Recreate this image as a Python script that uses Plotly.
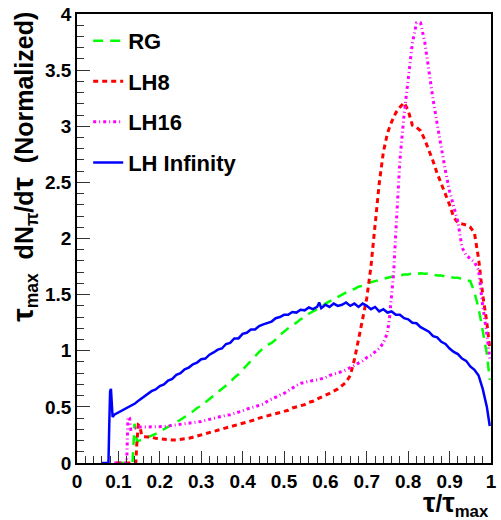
import plotly.graph_objects as go

# ---------------- data ----------------
rg_x = [0.095, 0.134, 0.137, 0.139, 0.145, 0.15, 0.16, 0.17, 0.18, 0.19, 0.20, 0.21, 0.22, 0.23, 0.24,
        0.25, 0.26, 0.27, 0.28, 0.29, 0.30, 0.31, 0.32, 0.33, 0.34, 0.35, 0.36, 0.37, 0.38, 0.39,
        0.40, 0.41, 0.42, 0.43, 0.44, 0.45, 0.46, 0.47, 0.48, 0.49, 0.50, 0.51, 0.52, 0.53, 0.54,
        0.55, 0.56, 0.57, 0.58, 0.59, 0.60, 0.61, 0.62, 0.63, 0.64, 0.65, 0.66, 0.67, 0.68, 0.69,
        0.70, 0.71, 0.72, 0.73, 0.74, 0.75, 0.76, 0.77, 0.78, 0.79, 0.80, 0.81, 0.82, 0.83, 0.84,
        0.85, 0.86, 0.87, 0.88, 0.89, 0.90, 0.91, 0.92, 0.93, 0.94, 0.95, 0.96, 0.97, 0.98, 0.99, 0.997]
rg_y = [0.0, 0.0, 0.2, 0.35, 0.19, 0.20, 0.21, 0.225, 0.24, 0.26, 0.28, 0.30, 0.32, 0.34, 0.36,
        0.385, 0.41, 0.43, 0.46, 0.49, 0.51, 0.54, 0.57, 0.60, 0.63, 0.66, 0.69, 0.72, 0.76, 0.79,
        0.83, 0.87, 0.91, 0.95, 0.99, 1.02, 1.05, 1.07, 1.10, 1.14, 1.17, 1.20, 1.23, 1.25, 1.28,
        1.30, 1.33, 1.35, 1.37, 1.39, 1.42, 1.44, 1.46, 1.48, 1.50, 1.52, 1.54, 1.55, 1.57, 1.58,
        1.60, 1.61, 1.62, 1.63, 1.64, 1.65, 1.66, 1.66, 1.67, 1.68, 1.68, 1.69, 1.685, 1.69, 1.685,
        1.69, 1.68, 1.67, 1.67, 1.66, 1.66, 1.65, 1.65, 1.64, 1.63, 1.62, 1.52, 1.38, 1.18, 0.97, 0.74]

lh8_x = [0.095, 0.142, 0.145, 0.148, 0.152, 0.156, 0.16, 0.17, 0.18, 0.19, 0.20, 0.21, 0.22, 0.23, 0.24,
         0.25, 0.26, 0.27, 0.28, 0.29, 0.30, 0.31, 0.32, 0.33, 0.34, 0.35, 0.36, 0.37, 0.38, 0.39,
         0.40, 0.41, 0.42, 0.43, 0.44, 0.45, 0.46, 0.47, 0.48, 0.49, 0.50, 0.51, 0.52, 0.53, 0.54,
         0.55, 0.56, 0.57, 0.58, 0.59, 0.60, 0.61, 0.62, 0.63, 0.64, 0.65, 0.66, 0.67, 0.68, 0.69,
         0.70, 0.71, 0.72, 0.73, 0.74, 0.75, 0.76, 0.77, 0.78, 0.79, 0.80, 0.81, 0.82, 0.83, 0.84,
         0.85, 0.86, 0.87, 0.88, 0.89, 0.90, 0.91, 0.92, 0.93, 0.94, 0.95, 0.96, 0.97, 0.98, 0.99, 0.997]
lh8_y = [0.0, 0.0, 0.20, 0.34, 0.33, 0.25, 0.235, 0.235, 0.23, 0.22, 0.215, 0.21, 0.205, 0.205, 0.205,
         0.21, 0.21, 0.22, 0.23, 0.24, 0.25, 0.26, 0.27, 0.28, 0.29, 0.30, 0.31, 0.32, 0.335, 0.345,
         0.355, 0.365, 0.375, 0.385, 0.40, 0.41, 0.415, 0.425, 0.435, 0.45, 0.46, 0.47, 0.49, 0.50, 0.51,
         0.52, 0.54, 0.55, 0.57, 0.585, 0.60, 0.62, 0.64, 0.66, 0.69, 0.72, 0.78, 0.92, 1.10, 1.28,
         1.47, 1.75, 2.12, 2.49, 2.77, 2.94, 3.04, 3.12, 3.17, 3.21, 3.14, 3.01, 2.99, 2.96, 2.88,
         2.79, 2.69, 2.58, 2.49, 2.40, 2.30, 2.19, 2.14, 2.13, 2.12, 2.10, 2.05, 1.82, 1.50, 1.25, 1.02]

lh16_x = [0.09, 0.12, 0.123, 0.127, 0.13, 0.14, 0.15, 0.16, 0.17, 0.18, 0.19, 0.20, 0.21, 0.22, 0.23, 0.24,
          0.25, 0.26, 0.27, 0.28, 0.29, 0.30, 0.31, 0.32, 0.33, 0.34, 0.35, 0.36, 0.37, 0.38, 0.39,
          0.40, 0.41, 0.42, 0.43, 0.44, 0.45, 0.46, 0.47, 0.48, 0.49, 0.50, 0.51, 0.52, 0.53, 0.54,
          0.55, 0.56, 0.57, 0.58, 0.59, 0.60, 0.61, 0.62, 0.63, 0.64, 0.65, 0.66, 0.67, 0.68, 0.69,
          0.70, 0.71, 0.72, 0.73, 0.74, 0.75, 0.755, 0.76, 0.765, 0.77, 0.78, 0.79, 0.80, 0.81, 0.82,
          0.83, 0.84, 0.85, 0.86, 0.87, 0.88, 0.89, 0.90, 0.91, 0.92, 0.93, 0.94, 0.95, 0.96, 0.97,
          0.98, 0.99, 0.997]
lh16_y = [0.0, 0.0, 0.41, 0.40, 0.30, 0.31, 0.32, 0.32, 0.32, 0.32, 0.32, 0.32, 0.325, 0.33, 0.335, 0.34,
          0.345, 0.35, 0.35, 0.355, 0.36, 0.37, 0.38, 0.39, 0.40, 0.41, 0.415, 0.425, 0.43, 0.44, 0.45,
          0.465, 0.48, 0.49, 0.50, 0.51, 0.525, 0.55, 0.57, 0.59, 0.605, 0.62, 0.645, 0.67, 0.69, 0.71,
          0.72, 0.73, 0.735, 0.74, 0.75, 0.76, 0.78, 0.79, 0.80, 0.815, 0.83, 0.85, 0.87, 0.89, 0.91,
          0.94, 0.96, 0.99, 1.02, 1.07, 1.16, 1.30, 1.48, 1.70, 2.05, 2.70, 3.10, 3.45, 3.74, 3.92,
          3.92, 3.75, 3.47, 3.24, 3.02, 2.80, 2.60, 2.42, 2.28, 2.15, 1.92, 1.85, 1.82, 1.79, 1.72,
          1.40, 1.15, 0.93]

lhinf_x = [0.06, 0.076, 0.078, 0.080, 0.082, 0.084, 0.086, 0.09, 0.10, 0.11, 0.12, 0.13, 0.14, 0.15,
           0.16, 0.17, 0.18, 0.19, 0.20, 0.21, 0.22, 0.23, 0.24, 0.25, 0.26, 0.27, 0.28, 0.29, 0.30,
           0.31, 0.32, 0.33, 0.34, 0.35, 0.36, 0.37, 0.38, 0.39, 0.40, 0.41, 0.42, 0.43, 0.44, 0.45,
           0.46, 0.47, 0.48, 0.49, 0.50, 0.51, 0.52, 0.53, 0.54, 0.55, 0.56, 0.57, 0.58, 0.585, 0.59,
           0.60, 0.61, 0.62, 0.63, 0.64, 0.65, 0.66, 0.67, 0.68, 0.69, 0.70, 0.71, 0.72, 0.73, 0.74,
           0.75, 0.76, 0.77, 0.78, 0.79, 0.80, 0.81, 0.82, 0.83, 0.84, 0.85, 0.86, 0.87, 0.88, 0.89,
           0.90, 0.91, 0.92, 0.93, 0.94, 0.95, 0.96, 0.97, 0.98, 0.99, 0.997]
lhinf_y = [0.0, 0.0, 0.35, 0.64, 0.66, 0.55, 0.41, 0.43, 0.45, 0.47, 0.49, 0.515, 0.53, 0.56,
           0.585, 0.61, 0.64, 0.655, 0.685, 0.70, 0.735, 0.75, 0.785, 0.80, 0.835, 0.85, 0.88, 0.895, 0.925,
           0.93, 0.965, 0.985, 1.01, 1.02, 1.06, 1.07, 1.11, 1.11, 1.15, 1.16, 1.19, 1.19, 1.22, 1.235,
           1.25, 1.26, 1.29, 1.30, 1.32, 1.32, 1.345, 1.34, 1.365, 1.36, 1.385, 1.37, 1.39, 1.43, 1.38,
           1.41, 1.39, 1.42, 1.40, 1.41, 1.43, 1.40, 1.42, 1.39, 1.42, 1.40, 1.37, 1.39, 1.35, 1.37,
           1.34, 1.35, 1.32, 1.32, 1.29, 1.28, 1.25, 1.245, 1.21, 1.19, 1.17, 1.13, 1.12, 1.08, 1.06,
           1.02, 0.99, 0.97, 0.93, 0.91, 0.86, 0.83, 0.78, 0.66, 0.50, 0.33]

series = [
    ("RG", rg_x, rg_y, "#00ff00", "10px,7px", 2.5),
    ("LH8", lh8_x, lh8_y, "#ff0000", "5px,4px", 3),
    ("LH16", lh16_x, lh16_y, "#ff00ff", "3px,3px,1px,3px", 3),
    ("LH Infinity", lhinf_x, lhinf_y, "#0000ff", "solid", 2.5),
]

x_ticks = [0, 0.1, 0.2, 0.3, 0.4, 0.5, 0.6, 0.7, 0.8, 0.9, 1]
x_labels = ["0", "0.1", "0.2", "0.3", "0.4", "0.5", "0.6", "0.7", "0.8", "0.9", "1"]
y_ticks = [0, 0.5, 1, 1.5, 2, 2.5, 3, 3.5, 4]
y_labels = ["0", "0.5", "1", "1.5", "2", "2.5", "3", "3.5", "4"]

FONT = "Liberation Sans, Arial, sans-serif"

fig = go.Figure()
for i, (name, xs, ys, col, dash, w) in enumerate(series):
    fig.add_trace(go.Scatter(x=xs, y=ys, mode="lines", name=name, legendgroup=f"g{i}",
                             line=dict(color=col, dash=dash, width=w)))

axis_common = dict(showgrid=False, zeroline=False, showline=True, linecolor="black", linewidth=1.5,
                   mirror=True, ticks="inside", tickcolor="#333", tickwidth=1,
                   tickfont=dict(family=FONT, size=19, color="black", weight="bold"))

fig.update_xaxes(range=[0, 1], tickvals=x_ticks, ticktext=x_labels, ticklen=12,
                 minor=dict(dtick=0.02, ticklen=7, ticks="inside", tickcolor="#333", showgrid=False),
                 **axis_common)
fig.update_yaxes(range=[0, 4], tickvals=y_ticks, ticktext=y_labels, ticklen=13,
                 minor=dict(dtick=0.1, ticklen=7, ticks="inside", tickcolor="#333", showgrid=False),
                 **axis_common)

ytitle = ("<span style='font-size:30px'>τ</span><sub>max</sub>  dN<sub>π</sub>/d"
          "<span style='font-size:30px'>τ</span>  (Normalized)")
fig.add_annotation(text=ytitle, textangle=-90,
                   xref="paper", yref="paper", x=-0.13, y=1.01, xanchor="center", yanchor="top",
                   showarrow=False, font=dict(family=FONT, size=25, color="black", weight="bold"))
fig.add_annotation(text="<span style='font-size:28px'>τ</span>/<span style='font-size:28px'>τ</span><sub>max</sub>",
                   xref="paper", yref="paper", x=1.0, y=-0.127, yshift=-3,
                   xanchor="right", yanchor="bottom", showarrow=False,
                   font=dict(family=FONT, size=24, color="black", weight="bold"))

fig.update_layout(
    width=501, height=520,
    margin=dict(l=77, r=4, t=14, b=57),
    paper_bgcolor="white", plot_bgcolor="white",
    legend=dict(x=0.027, y=0.987, xanchor="left", yanchor="top", bgcolor="rgba(0,0,0,0)",
                font=dict(family=FONT, size=22, color="black", weight="bold"),
                tracegroupgap=9, itemwidth=30),
    showlegend=True,
)

fig.write_html("out.html", config={"displayModeBar": False},
               post_script="document.body.style.margin='0';document.body.style.overflow='hidden';")
